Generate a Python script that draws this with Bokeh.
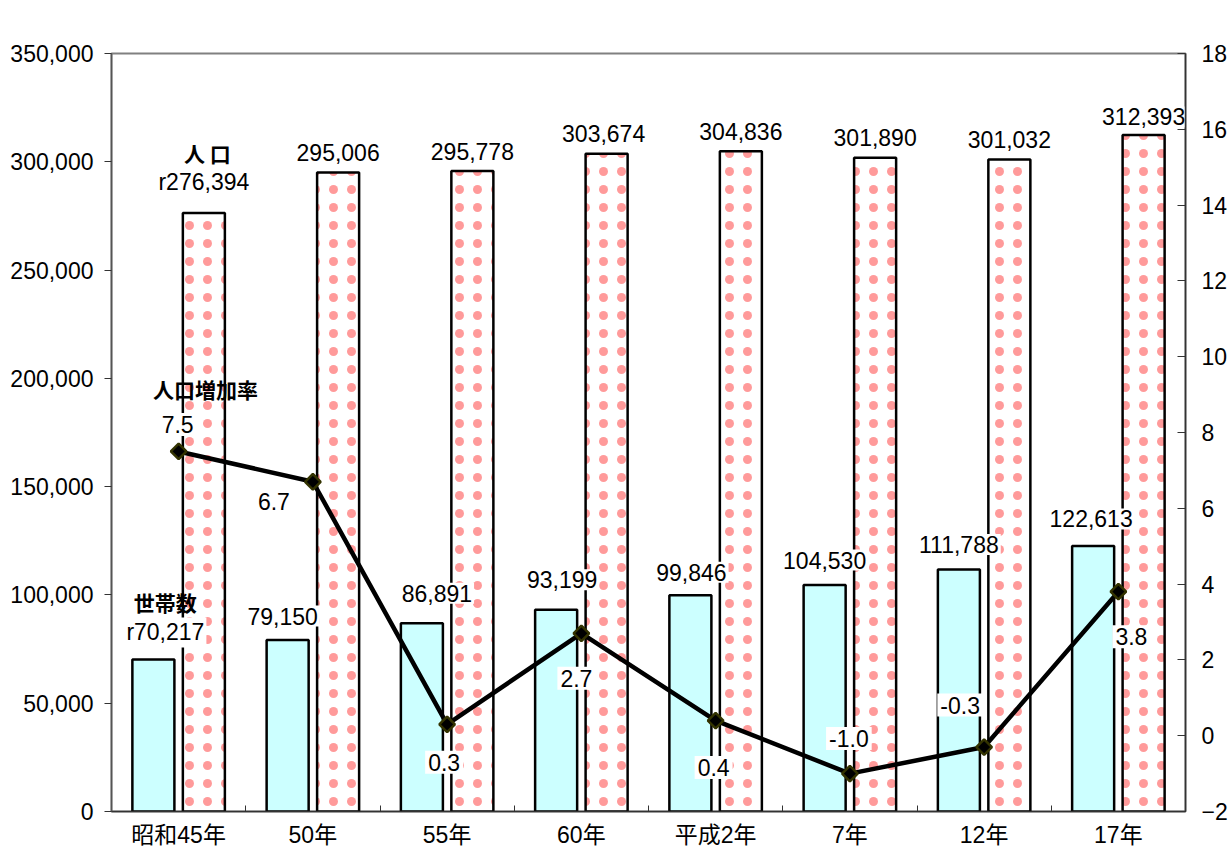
from bokeh.plotting import figure
from bokeh.models import (Range1d, LinearAxis, FixedTicker, NumeralTickFormatter, ColumnDataSource, Label)
from bokeh.core.properties import value
from bokeh.embed import file_html
from bokeh.resources import INLINE

# ---------------- data ----------------
categories = ["昭和45年", "50年", "55年", "60年", "平成2年", "7年", "12年", "17年"]
households = [70217, 79150, 86891, 93199, 99846, 104530, 111788, 122613]
population = [276394, 295006, 295778, 303674, 304836, 301890, 301032, 312393]
growth = [7.5, 6.7, 0.3, 2.7, 0.4, -1.0, -0.3, 3.8]
hh_labels = ["r70,217", "79,150", "86,891", "93,199", "99,846", "104,530", "111,788", "122,613"]
pop_labels = ["r276,394", "295,006", "295,778", "303,674", "304,836", "301,890", "301,032", "312,393"]
growth_labels = ["7.5", "6.7", "0.3", "2.7", "0.4", "-1.0", "-0.3", "3.8"]
left_ticks = [0, 50000, 100000, 150000, 200000, 250000, 300000, 350000]
right_ticks = [-2, 0, 2, 4, 6, 8, 10, 12, 14, 16, 18]

# ---------------- styles / label placement ----------------
FONT = "Liberation Sans, Noto Sans CJK JP"
BOLD_FONT = "Noto Sans CJK JP"
FS = "23px"
BAR_W = 0.313
BAR_OFF = 0.188
hh_dx = [12, -5, 15, 6, 1, 0, 0, -2]
hh_dy = [-27, -24, -30, -30, -23, -25, -25, -27]
pop_dx = [0, 0, 0, -3, 0, 0, 0, 0]
pop_dy = [-31, -20, -19, -20, -20, -20, -20, -18]
gr_dx = [-1, -39, -3, -5, -2, -1, -24, 13]
gr_dy = [-27, 20, 38, 45, 47, -35, -42, 45]

n = len(categories)
centers = [i + 0.5 for i in range(n)]
hh_x = [c - BAR_OFF for c in centers]
pop_x = [c + BAR_OFF for c in centers]

p = figure(width=1230, height=850, x_range=Range1d(0, n), y_range=Range1d(0, 350000),
           output_backend="svg", toolbar_location=None, x_axis_type=None, y_axis_type=None,
           min_border_left=111, min_border_right=45, min_border_top=53, min_border_bottom=38)
p.extra_y_ranges = {"rate": Range1d(-2, 18)}
p.xgrid.visible = False
p.ygrid.visible = False
p.outline_line_color = "#808080"
p.outline_line_width = 2
p.background_fill_color = "white"

# left axis
ly = LinearAxis(ticker=FixedTicker(ticks=left_ticks), formatter=NumeralTickFormatter(format="0,0"))
ly.major_label_text_font = FONT
ly.major_label_text_font_size = FS
ly.major_label_text_color = "black"
ly.major_tick_out = 7
ly.major_tick_in = 0
ly.minor_tick_out = 0
ly.minor_tick_in = 0
ly.major_label_standoff = 11
ly.axis_line_color = "#555555"
ly.axis_line_width = 1.5
ly.major_tick_line_color = "#333333"
p.add_layout(ly, "left")

# right axis
ry = LinearAxis(y_range_name="rate", ticker=FixedTicker(ticks=right_ticks))
ry.major_label_text_font = FONT
ry.major_label_text_font_size = FS
ry.major_label_text_color = "black"
ry.major_tick_out = 0
ry.major_tick_in = 8
ry.minor_tick_out = 0
ry.minor_tick_in = 0
ry.major_label_standoff = 16
ry.axis_line_color = "#333333"
ry.axis_line_width = 1.5
ry.major_tick_line_color = "#333333"
p.add_layout(ry, "right")

# bottom axis
bx = LinearAxis(ticker=FixedTicker(ticks=centers, minor_ticks=list(range(n + 1))))
bx.major_label_overrides = {c: lab for c, lab in zip(centers, categories)}
bx.major_label_text_font = FONT
bx.major_label_text_font_size = FS
bx.major_label_text_color = "black"
bx.major_tick_out = 0
bx.major_tick_in = 0
bx.minor_tick_in = 6
bx.minor_tick_out = 0
bx.minor_tick_line_color = "#333333"
bx.major_label_standoff = 10
bx.axis_line_color = "#333333"
bx.axis_line_width = 1.5
p.add_layout(bx, "below")

# bars
p.vbar(x=hh_x, top=households, width=BAR_W, fill_color="#CCFFFF", line_color="black", line_width=2.5)
p.vbar(x=pop_x, top=population, width=BAR_W, fill_color="white", line_color="black", line_width=2.5,
       hatch_pattern="dot", hatch_color="#FF2020", hatch_scale=18, hatch_weight=0.5, hatch_alpha=0.45)

# growth line
p.line(x=centers, y=growth, y_range_name="rate", line_color="black", line_width=4.5)
p.scatter(x=centers, y=growth, y_range_name="rate", marker="square", angle=0.785398, size=11,
          fill_color="black", line_color="#333300", line_width=2.5)

# bar value labels (white boxes, like the original data labels)
hh_src = ColumnDataSource(dict(x=hh_x, y=households, t=hh_labels, dx=hh_dx, dy=hh_dy))
p.text(x="x", y="y", text="t", x_offset="dx", y_offset="dy", source=hh_src,
       text_font=value(FONT), text_font_size=FS, text_align="center",
       text_baseline="middle", text_color="black", background_fill_color="white", padding=2)
pop_src = ColumnDataSource(dict(x=pop_x, y=population, t=pop_labels, dx=pop_dx, dy=pop_dy))
p.text(x="x", y="y", text="t", x_offset="dx", y_offset="dy", source=pop_src,
       text_font=value(FONT), text_font_size=FS, text_align="center",
       text_baseline="middle", text_color="black", background_fill_color="white", padding=2)

# growth labels with white boxes
gr_src = ColumnDataSource(dict(x=centers, y=growth, t=growth_labels, dx=gr_dx, dy=gr_dy))
p.text(x="x", y="y", text="t", x_offset="dx", y_offset="dy", source=gr_src, y_range_name="rate",
       text_font=value(FONT), text_font_size=FS, text_align="center",
       text_baseline="middle", text_color="black",
       background_fill_color="white", padding=3)

# series names
p.text(x=[0.715], y=[303967], text=["人 口"], text_font=value(BOLD_FONT), text_font_size="21px",
       text_font_style="bold", text_align="center", text_baseline="middle")
p.text(x=[0.70], y=[195111], text=["人口増加率"], text_font=value(BOLD_FONT), text_font_size="21px",
       text_font_style="bold", text_align="center", text_baseline="middle")
p.text(x=[0.40], y=[96863], text=["世帯数"], text_font=value(BOLD_FONT), text_font_size="21px",
       text_font_style="bold", text_align="center", text_baseline="middle")

# axis unit labels
p.add_layout(Label(x=-0.246, y=364391, text="人", text_font=BOLD_FONT, text_font_size="22px",
                   text_align="center", text_baseline="middle"))
p.add_layout(Label(x=8.22, y=18.87, y_range_name="rate", text="%", text_font=FONT,
                   text_font_size="22px", text_align="center", text_baseline="middle"))

open("out.html", "w").write(file_html(p, INLINE))
